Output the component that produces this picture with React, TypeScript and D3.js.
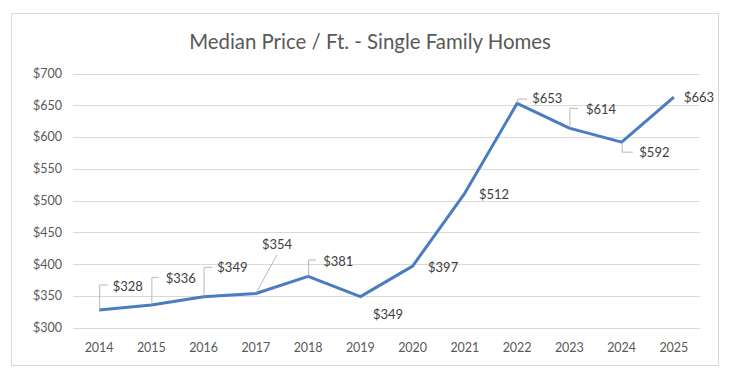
import React from "react";
import * as d3 from "d3";

const years = ["2014","2015","2016","2017","2018","2019","2020","2021","2022","2023","2024","2025"];
const values = [328, 336, 349, 354, 381, 349, 397, 512, 653, 614, 592, 663];
const yTicks = [300, 350, 400, 450, 500, 550, 600, 650, 700];
const title = "Median Price / Ft. - Single Family Homes";

// label placement (pixel offsets from point) and leader style
type Lbl = { dx: number; dy: number; leader: "none" | "bracket" | "diag"; lx?: number; ly?: number };
const labelLayout: Lbl[] = [
  { dx: 13.6, dy: -23.3, leader: "bracket", lx: 8.6, ly: -25 },
  { dx: 14.3, dy: -26.6, leader: "bracket", lx: 7.6, ly: -27.6 },
  { dx: 13.7, dy: -29.3, leader: "bracket", lx: 8.7, ly: -29.3 },
  { dx: 6, dy: -49.5, leader: "diag", lx: 21, ly: -38.5 },
  { dx: 15, dy: -15.3, leader: "bracket", lx: 8, ly: -16.3 },
  { dx: 12.6, dy: 17.4, leader: "none" },
  { dx: 15.4, dy: 1, leader: "none" },
  { dx: 14, dy: 1, leader: "none" },
  { dx: 15, dy: -5, leader: "bracket", lx: 10, ly: -4.3 },
  { dx: 16.6, dy: -19, leader: "bracket", lx: 8.6, ly: -19.8 },
  { dx: 17.7, dy: 10.2, leader: "bracket", lx: 11.4, ly: 10 },
  { dx: 10, dy: 0.8, leader: "none" },
];

const W = 735, H = 379;
const FONT = "Lato, 'Open Sans', sans-serif";

export default function App() {
  const x = d3.scalePoint<string>().domain(years).range([73, 700]).padding(0.5);
  const y = d3.scaleLinear().domain([300, 700]).range([327.8, 73.5]);
  const line = d3.line<number>().x((_, i) => x(years[i])!).y((d) => y(d));
  const fmt = (v: number) => `$${v}`;

  return (
    <svg width={W} height={H} style={{ position: "absolute", left: 0, top: 0, background: "#fff" }}>
      <rect x={0} y={0} width={W} height={H} fill="#fff" />
      <rect x={11.5} y={13.5} width={707} height={352} fill="#fff" stroke="#d9d9d9" strokeWidth={1} />
      <text x={370} y={49} textAnchor="middle" fontFamily={FONT} fontSize={20.4} fill="#595959">{title}</text>
      {yTicks.map((t) => (
        <g key={t}>
          <line x1={73} x2={700} y1={Math.round(y(t)) + 0.5} y2={Math.round(y(t)) + 0.5} stroke="#d9d9d9" strokeWidth={1} />
          <text x={62} y={y(t)} dy="0.35em" textAnchor="end" fontFamily={FONT} fontSize={12.5} fill="#595959">{fmt(t)}</text>
        </g>
      ))}
      {years.map((yr) => (
        <text key={yr} x={x(yr)} y={348} dy="0.35em" textAnchor="middle" fontFamily={FONT} fontSize={12.5} fill="#595959">{yr}</text>
      ))}
      <path d={line(values) || ""} fill="none" stroke="#4a7cc1" strokeWidth={3} strokeLinejoin="round" />
      {values.map((v, i) => {
        const px = x(years[i])!;
        const py = y(v);
        const L = labelLayout[i];
        let leader = null;
        if (L.leader === "bracket") {
          leader = <path d={`M${px + 0.5},${py} V${py + L.ly!} H${px + L.lx!}`} fill="none" stroke="#a6a6a6" strokeWidth={0.8} />;
        } else if (L.leader === "diag") {
          leader = <path d={`M${px},${py} L${px + L.lx!},${py + L.ly!}`} fill="none" stroke="#a6a6a6" strokeWidth={0.8} />;
        }
        return (
          <g key={i}>
            {leader}
            <text x={px + L.dx} y={py + L.dy} dy="0.35em" fontFamily={FONT} fontSize={13} fill="#404040">{fmt(v)}</text>
          </g>
        );
      })}
    </svg>
  );
}
